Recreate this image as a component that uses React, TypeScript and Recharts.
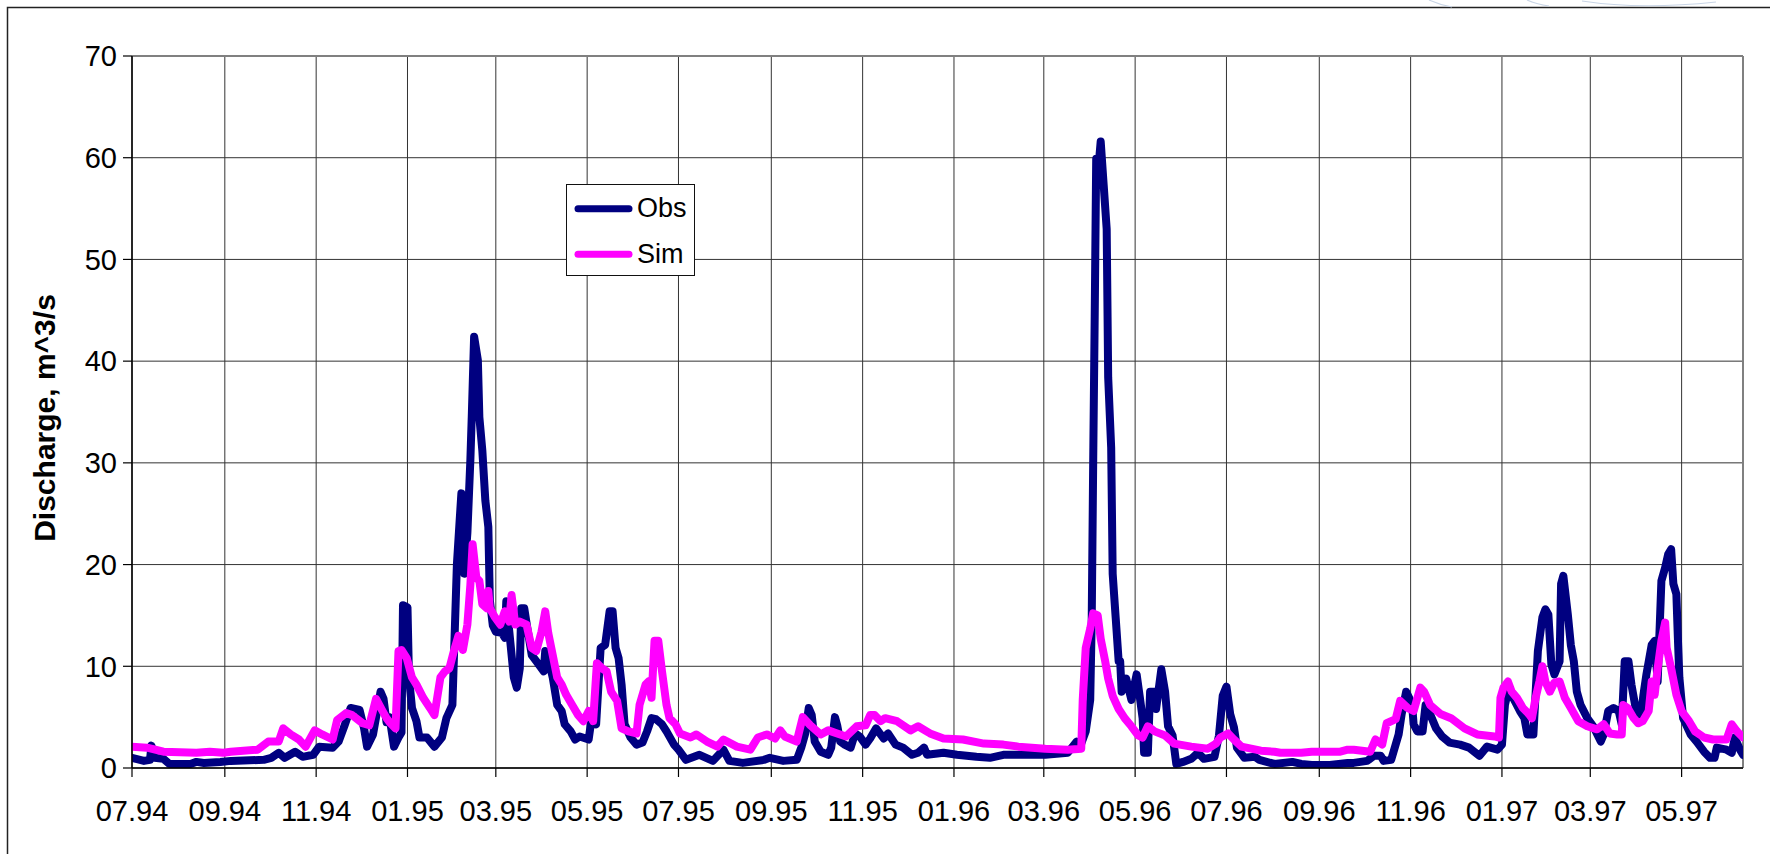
import {
  CartesianGrid,
  Legend,
  Line,
  LineChart,
  ReferenceLine,
  XAxis,
  YAxis,
} from "recharts";

const FONT = '"Liberation Sans", Arial, sans-serif';
const DAY_MS = 86400000;
const START = Date.UTC(1994, 6, 1);
const END_DAY = 1076;

const TICK_LABELS = [
  "07.94", "09.94", "11.94", "01.95", "03.95", "05.95",
  "07.95", "09.95", "11.95", "01.96", "03.96", "05.96",
  "07.96", "09.96", "11.96", "01.97", "03.97", "05.97",
];
const Y_TICKS = [0, 10, 20, 30, 40, 50, 60, 70];

// [days since 01.07.1994, discharge m^3/s], one list per hydrological year
const OBS_9495: [number, number][] = [
  [0, 1.0], [8, 0.7], [12, 0.8], [13, 2.2], [15, 1.0], [21, 0.9], [25, 0.4], [39, 0.4],
  [43, 0.6], [48, 0.5], [59, 0.6], [66, 0.7], [88, 0.8], [93, 1.0], [98, 1.5], [102, 1.0],
  [109, 1.6], [114, 1.1], [121, 1.3], [125, 2.1], [134, 2.0], [138, 2.6], [142, 4.2],
  [146, 5.9], [152, 5.7], [155, 3.9], [157, 2.1], [161, 3.3], [166, 7.5], [168, 6.8],
  [170, 4.5], [172, 5.0], [175, 2.1], [178, 3.0], [180, 3.5], [181, 16.0], [184, 15.8],
  [185, 8.9], [187, 5.9], [190, 4.6], [192, 3.0], [197, 3.0], [202, 2.1], [207, 3.0],
  [210, 4.9], [214, 6.2], [217, 20.0], [219, 24.7], [220, 27.0], [222, 19.1], [224, 23.1],
  [226, 30.3], [227, 34.9], [228.5, 42.4], [231, 40.1], [232, 34.5], [234, 31.2],
  [236, 26.3], [238, 23.7], [239, 16.5], [241, 14.0], [243, 13.4], [247, 13.3],
  [249, 12.8], [250, 16.4], [252, 13.4], [255, 8.9], [257, 7.9], [259, 9.8], [260, 15.7],
  [262, 15.7], [264, 13.8], [267, 11.1], [270, 10.5], [275, 9.5], [276, 11.5], [278, 10.8],
  [281, 8.9], [284, 6.2], [287, 5.6], [289, 4.3], [293, 3.6], [296, 2.8], [299, 3.1],
  [305, 2.8], [307, 4.9], [310, 4.3], [313, 11.8], [316, 12.1], [319, 15.4], [321, 15.4],
  [323, 11.8], [325, 10.8], [327, 8.2], [329, 4.3], [333, 3.0], [337, 2.3], [341, 2.5],
  [344, 3.6], [347, 4.9], [350, 4.8], [354, 4.3], [357, 3.6], [362, 2.3], [365, 1.8],
];

const OBS_9596: [number, number][] = [
  [370, 0.8], [379, 1.3], [388, 0.7], [395, 1.8], [399, 0.7], [408, 0.5], [422, 0.8],
  [426, 1.0], [435, 0.7], [444, 0.8], [447, 2.0], [449.5, 3.3], [452, 5.9], [454, 5.2],
  [456, 2.6], [460, 1.6], [465, 1.3], [467, 2.0], [469.5, 5.0], [471, 4.2], [473, 2.6],
  [476, 2.3], [480, 2.0], [483, 3.4], [486, 3.1], [490, 2.3], [493, 2.9], [497, 3.9],
  [502, 2.9], [505, 3.4], [510, 2.3], [515, 2.0], [521, 1.3], [525, 1.5], [529, 2.0],
  [531, 1.3], [542, 1.5], [551, 1.3], [564, 1.1], [573, 1.0], [582, 1.3], [594, 1.3],
  [610, 1.3], [625, 1.5], [631, 2.6], [634, 2.4], [637, 3.6], [640, 6.7], [641, 14.4],
  [642, 30.3], [643, 44.4], [644, 59.9], [646, 59.9], [647, 61.6], [649, 57.3], [651, 53.0],
  [652, 38.4], [654, 31.5], [655, 19.1], [657, 14.8], [659, 10.5], [660, 10.5], [661, 7.5],
  [664, 8.8], [667.5, 6.7], [671, 9.2], [673, 7.1], [675, 4.9], [676, 1.5], [678.5, 1.5],
  [680, 7.5], [683, 7.5], [684, 5.8], [687.5, 9.7], [690, 7.5], [692, 4.1], [695, 3.2],
  [697.5, 0.4], [702, 0.6], [707.5, 0.9], [712, 1.5], [716, 0.9], [723, 1.1], [726, 3.2],
  [728.5, 7.1],
];

const OBS_9697: [number, number][] = [
  [731, 8.0], [733.5, 5.3], [736, 4.0], [738, 2.0], [743, 1.0], [750, 1.1], [753, 0.8],
  [763, 0.4], [775, 0.6], [781, 0.4], [788, 0.3], [800, 0.3], [812, 0.5], [816, 0.5],
  [825, 0.7], [829.5, 1.2], [834, 1.2], [836, 0.7], [841, 0.8], [844, 2.3], [846, 3.3],
  [848, 5.3], [851, 7.5], [853, 6.9], [855, 6.2], [856, 4.3], [858.5, 3.6], [862, 3.6],
  [864, 6.2], [867, 5.3], [871, 3.9], [875, 3.1], [880, 2.5], [887, 2.3], [893, 2.0],
  [900, 1.2], [905, 2.1], [912, 1.8], [915, 2.3], [917, 6.2], [919, 7.5], [922.5, 6.9],
  [927, 5.6], [930, 4.9], [932, 3.3], [936, 3.3], [939, 11.5], [942, 14.8], [944, 15.6],
  [946, 15.1], [948, 10.2], [950, 9.2], [953.5, 10.5], [954.5, 18.1], [956, 18.9],
  [959, 15.1], [961, 12.1], [963, 10.5], [965, 7.5], [967.5, 6.2], [972, 4.9], [976, 4.1],
  [981, 2.6], [983, 3.3], [986, 5.6], [989.5, 5.9], [993, 5.6], [995, 4.3], [997, 10.5],
  [999.5, 10.5], [1001.5, 8.2], [1005, 5.3], [1008, 5.3], [1009.5, 7.2], [1011.5, 9.2],
  [1015, 12.1], [1017, 12.5], [1019, 8.5], [1021.5, 18.4], [1024, 19.7], [1026, 21.0],
  [1028, 21.5], [1029.5, 18.1], [1031.5, 17.1], [1032.5, 12.8], [1033.5, 8.9], [1036, 4.9],
  [1041, 3.3], [1045, 2.6], [1050, 1.6], [1054, 1.0], [1057, 1.0], [1058.5, 2.0],
  [1065, 1.8], [1068.5, 1.5], [1070.5, 3.0], [1074, 1.8], [1076, 1.3],
];

const SIM_9495: [number, number][] = [
  [0, 2.1], [10, 2.0], [21, 1.6], [43, 1.5], [52, 1.6], [61, 1.5], [66, 1.6], [84, 1.8],
  [91, 2.6], [98, 2.6], [101, 3.9], [106, 3.3], [111.5, 2.8], [116, 2.1], [122, 3.7],
  [127, 3.3], [134, 2.8], [137, 4.7], [143, 5.4], [147, 5.2], [154, 4.4], [158.5, 4.2],
  [163, 6.8], [167, 5.7], [170, 4.9], [172, 4.5], [176, 3.9], [178, 11.5], [180, 11.6],
  [183.5, 10.8], [187, 8.9], [190, 8.2], [194.5, 6.9], [199, 5.9], [202, 5.2], [206, 8.9],
  [209, 9.5], [212, 9.8], [215, 11.5], [218, 13.0], [221, 11.6], [224, 14.1], [226, 18.0],
  [227.5, 22.0], [230, 18.7], [232, 18.4], [234, 16.1], [237, 15.7], [238, 17.4],
  [239, 15.7], [242.5, 14.8], [246, 14.1], [249, 15.4], [252, 14.4], [253.5, 17.0],
  [256, 14.1], [259, 14.4], [263.5, 14.1], [267, 11.8], [270, 11.5], [273.5, 13.4],
  [276, 15.4], [278, 13.3], [281, 11.1], [284, 8.9], [287, 8.2], [290, 7.2], [294, 6.2],
  [298, 5.2], [301.5, 4.6], [305, 5.6], [308, 4.6], [310.5, 10.3], [314, 9.8], [317, 9.5],
  [320, 7.5], [324, 6.6], [327, 3.9], [331.5, 3.6], [337, 3.4], [339, 6.2], [343, 8.2],
  [345, 8.5], [347, 6.9], [349, 12.5], [351.5, 12.5], [354, 9.5], [357, 6.2], [359, 4.9],
  [363, 4.3],
];

const SIM_9596: [number, number][] = [
  [366, 3.4], [373, 3.0], [377, 3.3], [384, 2.6], [391, 2.1], [395, 2.8], [404, 2.1],
  [413, 1.8], [418, 3.0], [424, 3.3], [429.5, 2.9], [433, 3.7], [436, 3.1], [444, 2.6],
  [448, 5.0], [453, 4.2], [460, 3.3], [465, 3.7], [471, 3.4], [477, 3.1], [484, 4.1],
  [490, 4.2], [493, 5.2], [496, 5.2], [500, 4.6], [503, 4.9], [511, 4.6], [520, 3.7],
  [525, 4.1], [533, 3.4], [542, 2.9], [555, 2.8], [569, 2.4], [582, 2.3], [592, 2.1],
  [610, 1.9], [625, 1.8], [634, 1.9], [635, 6.7], [637, 11.8], [640, 13.7], [642, 15.2],
  [645, 15.0], [647, 12.7], [650, 10.5], [652, 8.8], [655, 7.1], [659, 5.8], [663, 4.9],
  [667.5, 4.1], [672, 3.2], [675, 3.0], [678.5, 4.1], [683, 3.6], [690, 3.2], [696, 2.4],
  [707.5, 2.1], [718.5, 1.9], [724, 2.4], [727, 3.0],
];

const SIM_9697: [number, number][] = [
  [732, 3.4], [736, 2.8], [741, 2.1], [754, 1.7], [763, 1.6], [767, 1.5], [781, 1.5],
  [788, 1.6], [807, 1.6], [812, 1.8], [816, 1.8], [827, 1.6], [830.5, 2.8], [835, 2.3],
  [838, 4.4], [844, 4.8], [847, 6.6], [852, 5.9], [856, 5.6], [860.5, 7.9], [863, 7.5],
  [867, 6.2], [874, 5.3], [881, 4.9], [890, 3.9], [898.5, 3.3], [910, 3.1], [913, 3.0],
  [914, 6.9], [916, 7.9], [919, 8.5], [921.5, 7.5], [925, 6.9], [929, 5.9], [933, 5.3],
  [935, 4.9], [937.5, 6.9], [940, 8.5], [942, 10.0], [944, 8.5], [947, 7.5], [950, 8.4],
  [953.5, 8.5], [957, 6.9], [961, 5.9], [966, 4.6], [972, 4.1], [978.5, 3.8], [983, 4.3],
  [987, 3.4], [992, 3.3], [995, 3.3], [996, 6.2], [999, 5.9], [1003, 4.9], [1006, 4.4],
  [1009, 4.6], [1013, 5.6], [1015, 8.5], [1017, 7.2], [1019, 9.8], [1021.5, 12.5],
  [1024, 14.3], [1025, 11.8], [1028, 9.8], [1031.5, 7.2], [1035, 5.6], [1040, 4.6],
  [1044, 3.6], [1050, 3.0], [1056, 2.8], [1065, 2.8], [1068.5, 4.3], [1072, 3.6], [1076, 3.0],
];

// "mm.yy" -> days since start
const labelToDay = (label: string) => {
  const [mm, yy] = label.split(".").map(Number);
  return (Date.UTC(1900 + yy, mm - 1, 1) - START) / DAY_MS;
};
const X_TICKS = TICK_LABELS.map(labelToDay);
const formatTick = (d: number) => TICK_LABELS[X_TICKS.indexOf(d)] ?? "";

const toRows = (pts: [number, number][]) => pts.map(([day, q]) => ({ day, q }));
const obsRows = toRows([...OBS_9495, ...OBS_9596, ...OBS_9697]);
const simRows = toRows([...SIM_9495, ...SIM_9596, ...SIM_9697]);

function LegendBox({ payload }: any) {
  const items = payload ?? [];
  return (
    <div
      style={{
        width: 129,
        height: 92,
        boxSizing: "border-box",
        border: "1px solid #111",
        background: "#fff",
      }}
    >
      <svg width={127} height={90} style={{ display: "block" }}>
        {items.map((p: any, i: number) => (
          <g key={p.value}>
            <line
              x1={11}
              x2={62}
              y1={23.7 + i * 45.6}
              y2={23.7 + i * 45.6}
              stroke={p.color}
              strokeWidth={7}
              strokeLinecap="round"
            />
            <text x={70} y={31.5 + i * 46.5} fontSize={27} fontFamily={FONT} fill="#000">
              {p.value}
            </text>
          </g>
        ))}
      </svg>
    </div>
  );
}

export default function App() {
  return (
    <div
      style={{
        position: "fixed",
        left: 0,
        top: 0,
        width: 1770,
        height: 854,
        overflow: "hidden",
        background: "#fff",
      }}
    >
      {/* frame, axis title and the faint arcs at the top edge */}
      <svg
        width={1770}
        height={854}
        style={{ position: "absolute", left: 0, top: 0 }}
      >
        <path d="M7.5,854 L7.5,7.5 L1770,7.5" fill="none" stroke="#222" strokeWidth={1.5} />
        <path
          d="M1429,0 Q1440,5 1452,7 M1527,0 Q1536,4 1549,6 M1582,1 Q1640,10 1716,2"
          fill="none"
          stroke="#c9d5e6"
          strokeWidth={1.2}
        />
        <text
          x={55}
          y={418}
          transform="rotate(-90 55 418)"
          textAnchor="middle"
          fontFamily={FONT}
          fontWeight="bold"
          fontSize={30}
          fill="#000"
        >
          Discharge, m^3/s
        </text>
      </svg>

      <div style={{ position: "absolute", left: 0, top: 0 }}>
        <LineChart
          width={1770}
          height={854}
          margin={{ top: 56, right: 27, bottom: 46, left: 72 }}
        >
          <CartesianGrid stroke="#333" strokeWidth={1} />
          <XAxis
            dataKey="day"
            type="number"
            domain={[0, END_DAY]}
            ticks={X_TICKS}
            interval={0}
            tickFormatter={formatTick}
            allowDataOverflow
            height={40}
            tickSize={9}
            tickMargin={23}
            tick={{ fill: "#000", fontSize: 29, fontFamily: FONT }}
            axisLine={{ stroke: "#000", strokeWidth: 1.5 }}
            tickLine={{ stroke: "#000", strokeWidth: 1.2 }}
          />
          <YAxis
            type="number"
            domain={[0, 70]}
            ticks={Y_TICKS}
            interval={0}
            allowDataOverflow
            width={60}
            tickSize={9}
            tickMargin={6}
            tick={{ fill: "#000", fontSize: 29, fontFamily: FONT }}
            axisLine={{ stroke: "#000", strokeWidth: 1.5 }}
            tickLine={{ stroke: "#000", strokeWidth: 1.2 }}
          />
          <ReferenceLine y={70} stroke="#808080" strokeWidth={2} />
          <ReferenceLine x={END_DAY} stroke="#808080" strokeWidth={2} />
          <Legend
            layout="vertical"
            align="center"
            verticalAlign="middle"
            content={<LegendBox />}
            wrapperStyle={{ left: 566, top: 184, width: 129, height: 92 }}
          />
          <Line
            data={obsRows}
            dataKey="q"
            name="Obs"
            type="linear"
            stroke="#000080"
            strokeWidth={8}
            strokeLinejoin="round"
            strokeLinecap="round"
            dot={false}
            activeDot={false}
            isAnimationActive={false}
          />
          <Line
            data={simRows}
            dataKey="q"
            name="Sim"
            type="linear"
            stroke="#ff00ff"
            strokeWidth={8}
            strokeLinejoin="round"
            strokeLinecap="round"
            dot={false}
            activeDot={false}
            isAnimationActive={false}
          />
        </LineChart>
      </div>
    </div>
  );
}
